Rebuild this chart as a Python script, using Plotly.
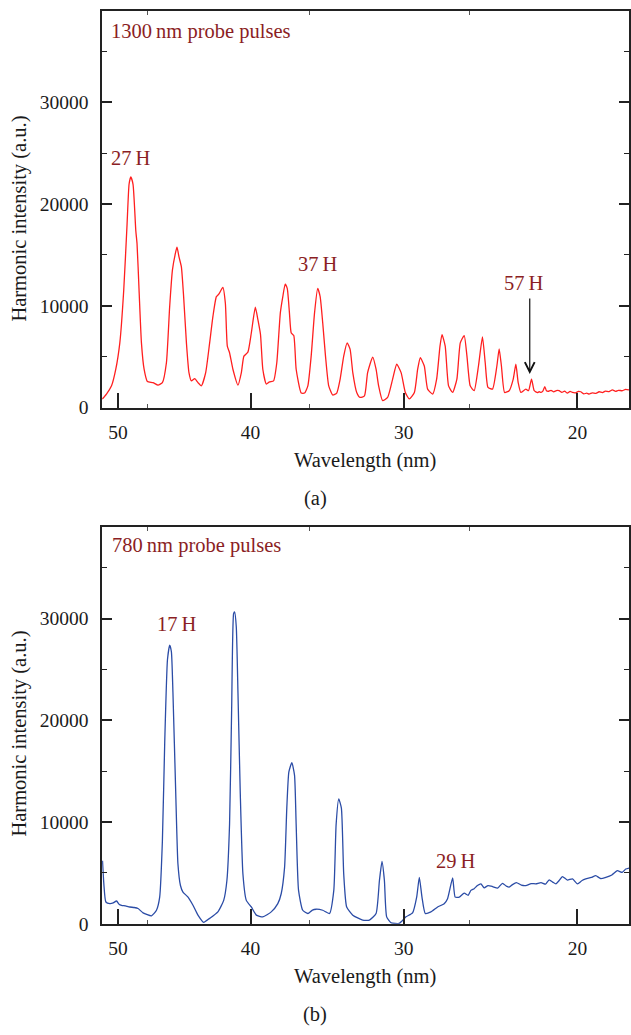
import numpy as np
import plotly.graph_objects as go

# ---------------------------------------------------------------
# Spectra (wavelength in nm, intensity in a.u.)
# ---------------------------------------------------------------
wl_1300 = [51.31, 50.96, 50.54, 50.19, 49.86, 49.54, 49.27, 49.11, 48.97, 48.79,
           48.57, 48.47, 48.31, 48.12, 47.91, 47.65, 47.21, 46.82, 46.48, 46.17,
           45.92, 45.71, 45.46, 45.36, 45.21, 45.03, 44.86, 44.65, 44.46, 44.28,
           44.03, 43.79, 43.54, 43.22, 42.93, 42.69, 42.44, 42.25, 41.97, 41.79,
           41.65, 41.49, 41.25, 40.89, 40.65, 40.47, 40.19, 39.95, 39.67, 39.49,
           39.31, 39.15, 38.91, 38.69, 38.41, 38.19, 37.95, 37.78, 37.62, 37.48,
           37.33, 37.21, 37.04, 36.88, 36.54, 36.32, 36.10, 35.88, 35.66, 35.45,
           35.29, 35.12, 34.94, 34.73, 34.47, 34.21, 33.99, 33.76, 33.54, 33.35,
           33.18, 32.93, 32.72, 32.44, 32.24, 31.92, 31.71, 31.55, 31.30, 30.99,
           30.68, 30.43, 30.16, 29.90, 29.66, 29.35, 29.15, 28.99, 28.75, 28.55,
           28.25, 28.01, 27.81, 27.69, 27.50, 27.30, 27.06, 26.81, 26.61, 26.38,
           26.22, 26.03, 25.80, 25.55, 25.32, 25.16, 25.00, 24.74, 24.49, 24.36,
           24.23, 24.05, 23.79, 23.56, 23.41, 23.28, 23.13, 22.85, 22.70, 22.53,
           22.38, 22.20, 22.10, 22.00, 21.90, 21.79, 21.70, 21.61, 21.45, 21.30,
           21.15, 21.00, 20.85, 20.70, 20.55, 20.40, 20.27, 20.10, 19.95, 19.82,
           19.65, 19.50, 19.37, 19.20, 19.00, 18.83, 18.65, 18.50, 18.30, 18.12,
           17.95, 17.80, 17.59, 17.42, 17.24]
int_1300 = [850, 1330, 2140, 3770, 6360, 11560, 18040, 21940, 22660, 21940,
            17400, 16100, 11560, 6360, 3770, 2560, 2460, 2210, 2460, 4410,
            9930, 13500, 15290, 15770, 14800, 13830, 10900, 6360, 3440, 2630,
            2850, 2460, 2140, 3440, 6360, 8960, 10900, 11170, 11810, 10250,
            6040, 5390, 3770, 2210, 3440, 5060, 5450, 7330, 9860, 8640,
            7180, 3770, 2310, 2530, 2630, 4410, 9280, 10900, 12140, 11710,
            9280, 7330, 7080, 3770, 1430, 1430, 2140, 5060, 9280, 11710,
            10900, 8310, 5060, 2140, 1240, 1430, 2800, 5060, 6360, 5720,
            3440, 1490, 1000, 1150, 3440, 4970, 3770, 2140, 680, 1000,
            2800, 4260, 3440, 1490, 850, 1490, 3770, 4900, 4090, 1820,
            1330, 2800, 6040, 7180, 6040, 2140, 1490, 2800, 6360, 7080,
            5060, 2140, 1660, 4090, 6940, 4410, 1980, 1820, 4090, 5770,
            4090, 1490, 1660, 2800, 4260, 2460, 1490, 1820, 1660, 2800,
            1660, 1480, 1560, 1500, 1620, 2070, 1650, 1590, 1700, 1550,
            1680, 1660, 1500, 1620, 1420, 1600, 1490, 1450, 1600, 1560,
            1350, 1420, 1330, 1450, 1400, 1560, 1480, 1620, 1580, 1750,
            1600, 1700, 1660, 1800, 1750]

wl_780 = [51.29, 51.18, 51.01, 50.68, 50.40, 50.13, 49.90, 49.72, 49.40, 49.05,
          48.70, 48.39, 47.99, 47.33, 46.94, 46.69, 46.48, 46.30, 46.09, 45.92,
          45.79, 45.67, 45.46, 45.29, 45.10, 44.91, 44.53, 44.16, 43.79, 43.37,
          42.93, 42.33, 41.91, 41.68, 41.49, 41.34, 41.20, 41.13, 41.01, 40.89,
          40.73, 40.54, 40.30, 39.95, 39.60, 39.15, 38.57, 38.12, 37.89, 37.66,
          37.51, 37.37, 37.17, 36.99, 36.88, 36.72, 36.44, 36.10, 35.80, 35.55,
          35.12, 34.68, 34.40, 34.25, 34.08, 33.91, 33.76, 33.57, 33.18, 32.55,
          32.13, 31.71, 31.50, 31.34, 31.19, 31.05, 30.78, 30.27, 29.86, 29.46,
          29.21, 29.05, 28.89, 28.69, 28.35, 27.95, 27.56, 27.36, 27.06, 26.91,
          26.67, 26.38, 26.15, 25.99, 25.80, 25.61, 25.41, 25.22, 25.00, 24.74,
          24.45, 24.17, 23.95, 23.79, 23.60, 23.38, 23.10, 22.85, 22.55, 22.29,
          22.00, 21.75, 21.55, 21.35, 21.18, 21.00, 20.82, 20.55, 20.27, 20.00,
          19.75, 19.55, 19.25, 19.01, 18.75, 18.47, 18.15, 17.86, 17.60, 17.41,
          17.24]
int_780 = [6190, 3930, 2140, 1980, 2050, 2240, 1900, 1820, 1750, 1650,
           1600, 1500, 1070, 780, 1330, 2620, 8130, 17850, 25950, 27400,
           26760, 22710, 12990, 5870, 3760, 3110, 2620, 1820, 850, 140,
           530, 1170, 2300, 4250, 9760, 21090, 30490, 30650, 29190, 22710,
           12990, 4900, 2300, 1650, 850, 680, 1170, 1980, 2950, 5540,
           11370, 14940, 15840, 14620, 9760, 3280, 1330, 1010, 1350, 1430,
           1330, 1010, 3280, 9760, 12280, 11370, 4900, 1650, 850, 360,
           360, 1010, 4250, 6120, 4250, 680, 100, 40, 680, 1070,
           2620, 4570, 2620, 1010, 1170, 1650, 1980, 2470, 4510, 2620,
           2620, 3010, 2800, 3280, 3450, 3760, 3930, 3540, 3750, 3660,
           3500, 3980, 3700, 3600, 3850, 4050, 3800, 3760, 3950, 3930,
           4050, 3900, 4320, 4100, 3930, 4250, 4640, 4300, 4410, 3930,
           4250, 4410, 4550, 4730, 4450, 4570, 4800, 5220, 5050, 5380,
           5480]

# wavelength tick labels and the auxiliary detector ticks (top edge)
wl_ticks = [50, 40, 30, 20]
aux_tick_wl = [47.65, 36.02, 26.07]

# harmonic labels: (text, wavelength, intensity)
labels_1300 = [("27\u2009H", 48.96, 24540), ("37\u2009H", 35.40, 14150), ("57\u2009H", 22.94, 12270)]
labels_780 = [("17\u2009H", 45.39, 29510), ("29\u2009H", 26.85, 6190)]

# ---------------------------------------------------------------
# Spectrometer calibration: flat-field grating dispersion
# (detector coordinate is quadratic in wavelength)
# ---------------------------------------------------------------
WL_REF = 50.0
QUAD = 0.0084372


def det(wl):
    t = WL_REF - np.asarray(wl, dtype=float)
    return t + QUAD * t ** 2


W, H = 631, 1035
FONT = "Liberation Serif"
LABEL_RED = "#8b1e24"
AXIS_COL = "#222222"
X_RANGE = [-1.307, 41.814]
Y_RANGE = [0, 39000]

x_dom = [102.3 / W, 630 / W]
y_dom_a = [(H - 412) / H, (H - 10.7) / H]
y_dom_b = [(H - 933.7) / H, (H - 532.7) / H]

fig = go.Figure()
fig.add_trace(go.Scatter(x=det(wl_1300), y=int_1300, mode="lines",
                         line=dict(color="#ff1f1f", width=1.3, shape="spline", smoothing=0.5),
                         xaxis="x", yaxis="y", showlegend=False, hoverinfo="skip"))
fig.add_trace(go.Scatter(x=det(wl_780), y=int_780, mode="lines",
                         line=dict(color="#2b4ca6", width=1.3, shape="spline", smoothing=0.5),
                         xaxis="x2", yaxis="y2", showlegend=False, hoverinfo="skip"))
# invisible carriers for the top-edge tick axes
for xa, ya in (("x3", "y"), ("x4", "y2")):
    fig.add_trace(go.Scatter(x=[X_RANGE[0]], y=[0], mode="markers", opacity=0,
                             xaxis=xa, yaxis=ya, showlegend=False, hoverinfo="skip"))

tick_font = dict(family=FONT, size=19.5, color="#1a1a1a")


def bottom_xaxis(anchor):
    return dict(domain=x_dom, range=X_RANGE, anchor=anchor,
                showline=True, linecolor=AXIS_COL, linewidth=1.5, mirror=True,
                showgrid=False, zeroline=False,
                tickmode="array", tickvals=list(det(wl_ticks)),
                ticktext=[str(v) for v in wl_ticks],
                ticks="inside", ticklen=15, tickwidth=1.5, tickcolor=AXIS_COL,
                tickfont=tick_font, ticklabelstandoff=6,
                minor=dict(tickmode="array", tickvals=list(det(aux_tick_wl)),
                           ticks="inside", ticklen=4, tickwidth=1, tickcolor="#555555"))


def top_xaxis(overlay, anchor):
    return dict(domain=x_dom, range=X_RANGE, overlaying=overlay, anchor=anchor,
                side="top", showline=False, showgrid=False, zeroline=False,
                tickmode="array", tickvals=list(det(aux_tick_wl)),
                ticks="inside", ticklen=4, tickwidth=1, tickcolor="#555555",
                showticklabels=False)


def yaxis(domain, anchor):
    return dict(domain=domain, range=Y_RANGE, anchor=anchor,
                showline=True, linecolor=AXIS_COL, linewidth=1.5, mirror="ticks",
                showgrid=False, zeroline=False,
                tickmode="array", tickvals=[0, 10000, 20000, 30000],
                ticktext=["0", "10000", "20000", "30000"],
                ticks="inside", ticklen=10, tickwidth=1.5, tickcolor=AXIS_COL,
                tickfont=tick_font, ticklabelstandoff=8,
                minor=dict(tickmode="array", tickvals=[5000, 15000, 25000, 35000],
                           ticks="inside", ticklen=5, tickwidth=1.2, tickcolor=AXIS_COL))


fig.update_layout(
    width=W, height=H,
    margin=dict(l=0, r=0, t=0, b=0),
    paper_bgcolor="white", plot_bgcolor="white",
    font=dict(family=FONT, size=20, color="#1a1a1a"),
    xaxis=bottom_xaxis("y"),
    yaxis=yaxis(y_dom_a, "x"),
    xaxis2=bottom_xaxis("y2"),
    yaxis2=yaxis(y_dom_b, "x2"),
    xaxis3=top_xaxis("x", "y"),
    xaxis4=top_xaxis("x2", "y2"),
)

ann = []
text_font = dict(family=FONT, size=20.5, color=LABEL_RED)
for txt, wl, val in labels_1300:
    ann.append(dict(text=txt, x=float(det(wl)), y=val, xref="x", yref="y",
                    showarrow=False, font=text_font, xanchor="center", yanchor="middle"))
for txt, wl, val in labels_780:
    ann.append(dict(text=txt, x=float(det(wl)), y=val, xref="x2", yref="y2",
                    showarrow=False, font=text_font, xanchor="center", yanchor="middle"))

# arrow pointing at the 57th harmonic
ann.append(dict(text="", x=float(det(22.63)), y=3310, xref="x", yref="y",
                ax=0, ay=-77, showarrow=True, arrowhead=5, arrowsize=1.6,
                arrowwidth=1.2, arrowcolor="#111111", standoff=0))

# panel titles
ann.append(dict(text="1300\u2009nm probe pulses", x=109 / W, y=(H - 31.7) / H,
                xref="paper", yref="paper", xanchor="left", yanchor="middle",
                showarrow=False, font=text_font))
ann.append(dict(text="780\u2009nm probe pulses", x=110 / W, y=(H - 551.7) / H,
                xref="paper", yref="paper", xanchor="left", yanchor="middle",
                showarrow=False, font=text_font))

# axis titles and captions
title_font = dict(family=FONT, size=20.5, color="#1a1a1a")
for yc in (221, 741.5):
    ann.append(dict(text="Harmonic intensity (a.u.)", x=20 / W, y=(H - yc) / H,
                    xref="paper", yref="paper", textangle=-90, showarrow=False,
                    xanchor="center", yanchor="middle", font=title_font))
for yc in (465, 987):
    ann.append(dict(text="Wavelength (nm)", x=366 / W, y=(H - yc) / H,
                    xref="paper", yref="paper", showarrow=False,
                    xanchor="center", yanchor="middle", font=title_font))
ann.append(dict(text="(a)", x=316 / W, y=(H - 504) / H, xref="paper", yref="paper",
                showarrow=False, xanchor="center", yanchor="middle", font=title_font))
ann.append(dict(text="(b)", x=316 / W, y=(H - 1025) / H, xref="paper", yref="paper",
                showarrow=False, xanchor="center", yanchor="middle", font=title_font))

fig.update_layout(annotations=ann)
fig.write_html("out.html")
